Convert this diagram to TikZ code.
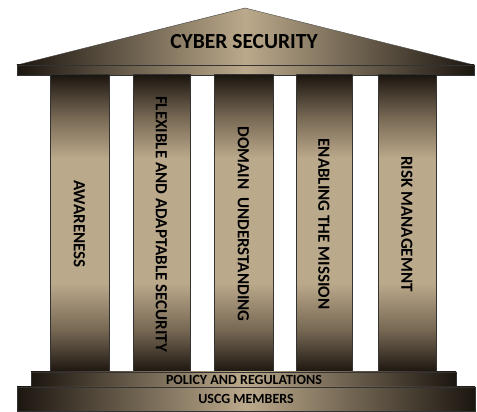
\documentclass[tikz,border=0pt]{standalone}
\usepackage{fontspec}
\setmainfont{Carlito}

\definecolor{stonedark}{HTML}{1C1610}
\definecolor{stonemid}{HTML}{766753}
\definecolor{stonelight}{HTML}{BBA98B}

% the middle half of the shading (25bp to 75bp) covers the pillar
\pgfdeclareverticalshading{pillarshade}{100bp}{
    color(0bp)=(stonedark); color(25bp)=(stonedark); color(32bp)=(stonemid);
    color(40bp)=(stonelight); color(61bp)=(stonelight);
    color(68bp)=(stonemid); color(75bp)=(stonedark); color(100bp)=(stonedark)}

\tikzset{
    slab/.style={left color=stonedark, right color=stonedark, middle color=stonelight},
    pillar/.style={shading=pillarshade, draw=black!80, line width=1pt},
    pillartext/.style={rotate=-90, font=\bfseries\fontsize{17}{17}\selectfont},
    basetext/.style={font=\bfseries\fontsize{14}{14}\selectfont}
}

\begin{document}
\begin{tikzpicture}[x=1pt, y=1pt]
    \useasboundingbox (0,0) rectangle (477,412);

    % roof
    \draw[slab, draw=black!70]
        (17,347)
        -- (245,404)
        -- (474,347)
        -- cycle;
    \draw[slab, draw=black!80] (17,347) rectangle (474,337);
    \node[font=\bfseries\fontsize{21.5}{21.5}\selectfont] (roof) at (244,370) {CYBER SECURITY};

    % pillars
    \draw[pillar] (50,337) rectangle (109,40);
    \draw[pillar] (133,337) rectangle (190,40);
    \draw[pillar] (214,337) rectangle (273,40);
    \draw[pillar] (296,337) rectangle (352,40);
    \draw[pillar] (378,337) rectangle (436,40);
    \node[pillartext] (awareness) at (79.5,188) {AWARENESS};
    \node[pillartext] (flexible) at (161.5,188) {FLEXIBLE AND ADAPTABLE SECURITY};
    \node[pillartext] (domain) at (243.5,188) {DOMAIN\ \ UNDERSTANDING};
    \node[pillartext] (mission) at (324,188) {ENABLING THE MISSION};
    \node[pillartext] (risk) at (407,188) {RISK MANAGEMNT};

    % base
    \draw[slab, draw=black!80] (31,40) rectangle (456,25);
    \node[basetext] (policy) at (244,32.5) {POLICY AND REGULATIONS};
    \draw[slab, draw=black!80] (17,25) rectangle (475,1);
    \node[basetext] (members) at (246,13) {USCG MEMBERS};
\end{tikzpicture}
\end{document}
